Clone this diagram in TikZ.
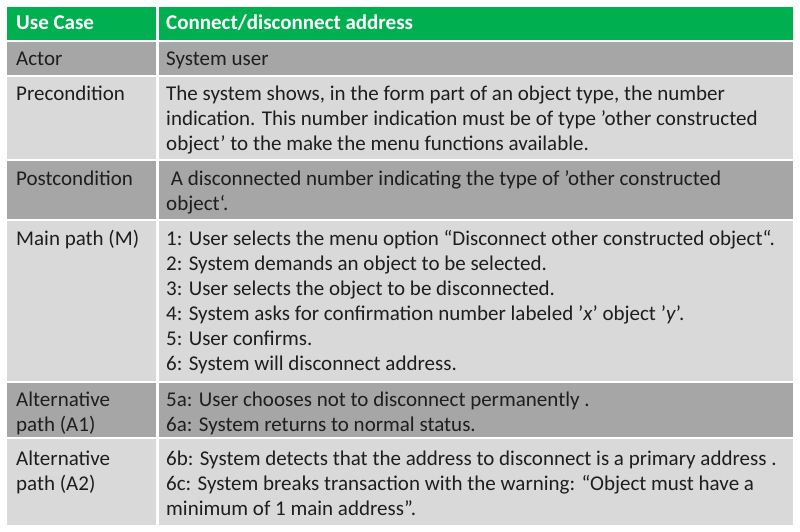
\documentclass[tikz,border=0pt]{standalone}
\usepackage{fontspec}
\setmainfont{Carlito}
\definecolor{hdr}{HTML}{00B050}
\definecolor{dk}{HTML}{A6A6A6}
\definecolor{lt}{HTML}{D9D9D9}
\definecolor{txt}{HTML}{1E1E1E}
\begin{document}
\begin{tikzpicture}[x=1pt,y=-1pt,
  lbl/.style={anchor=north west,inner sep=0,align=left,font=\fontsize{21}{25}\selectfont,text=txt},
  hlbl/.style={lbl,text=white,font=\fontsize{21}{25}\selectfont\bfseries}]
\useasboundingbox (0,0) rectangle (800,532);
\def\rowc#1#2#3{%
  \fill[#3] (7,#1) rectangle (156,#2);
  \fill[#3] (159,#1) rectangle (793,#2);}
\rowc{7}{40}{hdr}
\rowc{42}{75}{dk}
\rowc{77}{159}{lt}
\rowc{161}{219}{dk}
\rowc{221}{381}{lt}
\rowc{383}{437}{dk}
\rowc{439}{525}{lt}
\node[hlbl] (h1) at (16,11.5) {\strut Use Case};
\node[hlbl] (h2) at (166,11.5) {\strut Connect/disconnect address};
\node[lbl] (a1) at (16,47.5) {\strut Actor};
\node[lbl] (a2) at (166,47.5) {\strut System user};
\node[lbl] (p1) at (16,82.5) {\strut Precondition};
\node[lbl] (p2) at (166,82.5) {\strut The system shows, in the form part of an object type, the number\\indication. This number indication must be of type 'other constructed\\object' to the make the menu functions available.};
\node[lbl] (q1) at (16,167.5) {\strut Postcondition};
\node[lbl] (q2) at (166,167.5) {\strut\ A disconnected number indicating the type of 'other constructed\\object‘.};
\node[lbl] (m1) at (16,227.5) {\strut Main path (M)};
\node[lbl] (m2) at (166,227.5) {\strut 1: User selects the menu option “Disconnect other constructed object“.\\2: System demands an object to be selected.\\3: User selects the object to be disconnected.\\4: System asks for confirmation number labeled '\textit{x}' object '\textit{y}'.\\5: User confirms.\\6: System will disconnect address.};
\node[lbl] (x1) at (16,388.5) {\strut Alternative\\path (A1)};
\node[lbl] (x2) at (166,388.5) {\strut 5a: User chooses not to disconnect permanently .\\6a: System returns to normal status.};
\node[lbl] (y1) at (16,447.5) {\strut Alternative\\path (A2)};
\node[lbl] (y2) at (166,447.5) {\strut 6b: System detects that the address to disconnect is a primary address .\\6c: System breaks transaction with the warning: “Object must have a\\minimum of 1 main address”.};
\end{tikzpicture}
\end{document}
